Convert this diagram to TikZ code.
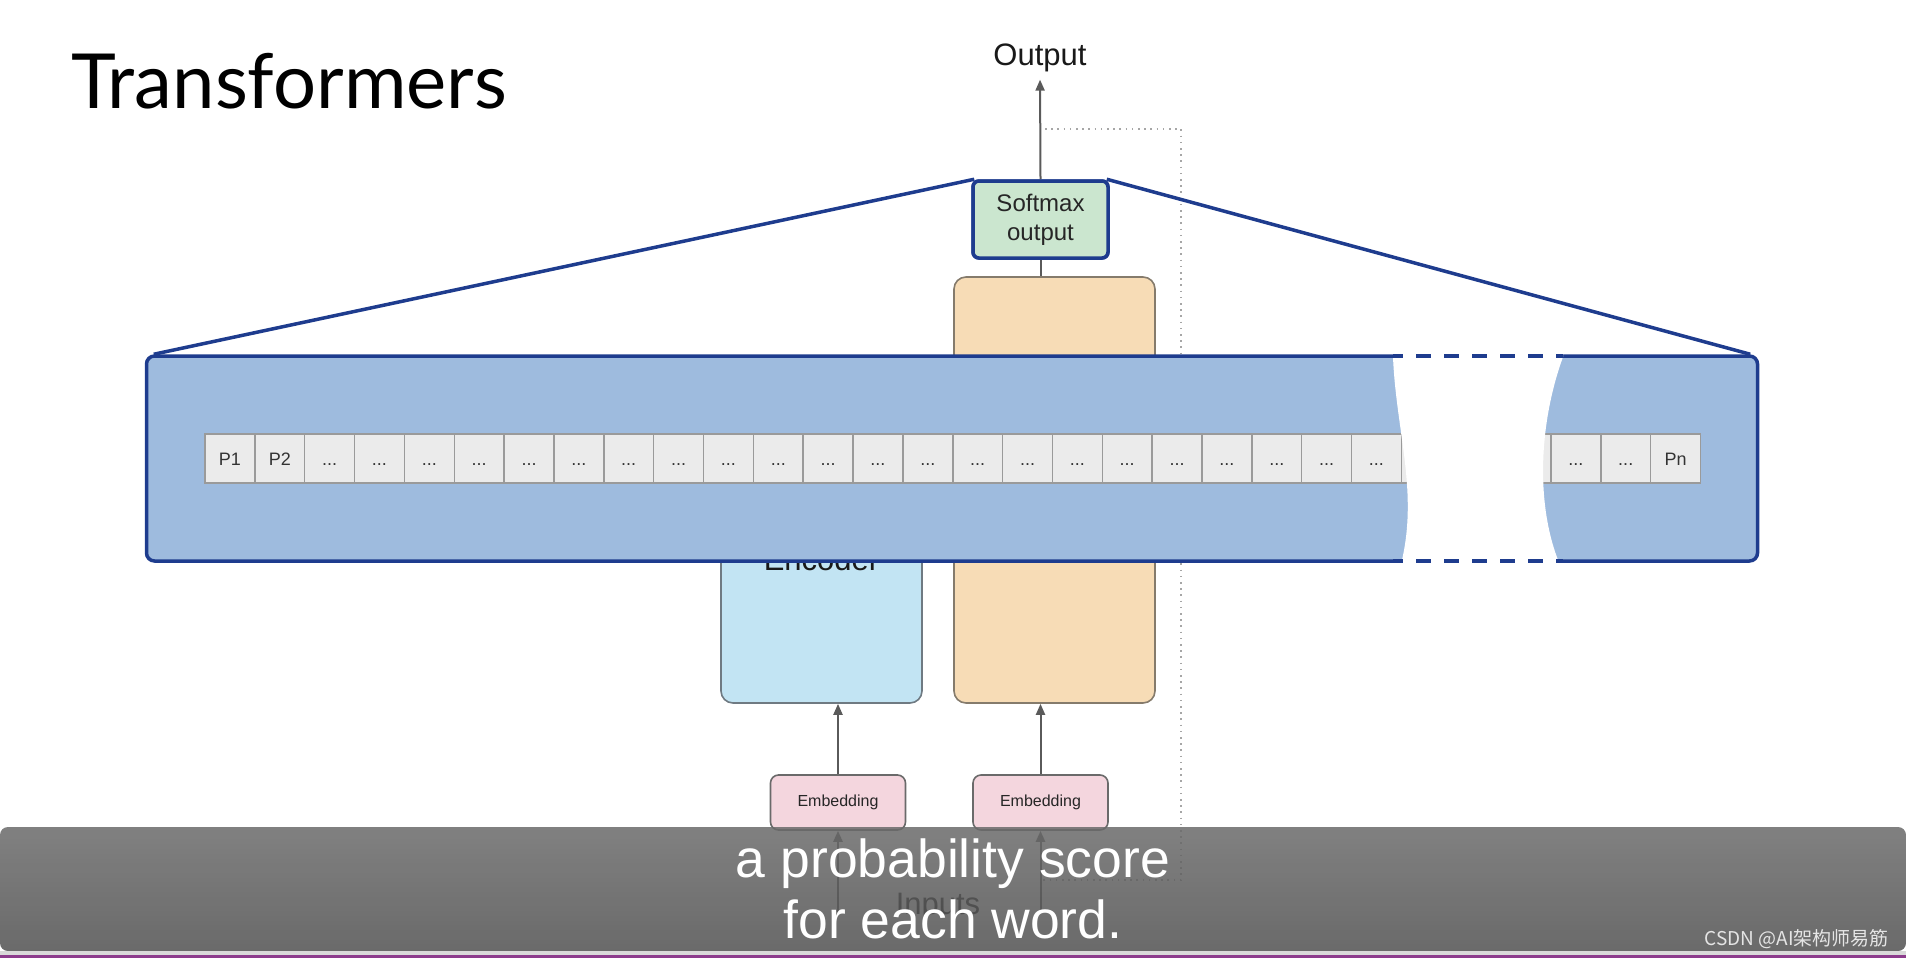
\documentclass[tikz,border=0pt]{standalone}
\usepackage{fontspec}
\setmainfont{Liberation Sans}
\newfontfamily\titlefont{Lato}
\newfontfamily\cjkfont{Noto Sans CJK SC}
\usetikzlibrary{arrows.meta,positioning,calc}

\definecolor{bandfill}{HTML}{9EBBDE}
\definecolor{bandline}{HTML}{1E3C8E}
\definecolor{softfill}{HTML}{CBE6CF}
\definecolor{decfill}{HTML}{F7DCB6}
\definecolor{decline}{HTML}{857B6C}
\definecolor{encfill}{HTML}{C2E4F3}
\definecolor{encline}{HTML}{6F7A82}
\definecolor{embfill}{HTML}{F4D6DE}
\definecolor{embline}{HTML}{6A6A6A}
\definecolor{cellfill}{HTML}{EBEBEB}
\definecolor{cellline}{HTML}{9A9A9A}
\definecolor{wiregray}{HTML}{5A5A5A}
\definecolor{bartop}{HTML}{6A6A6A}
\definecolor{barbottom}{HTML}{505050}
\definecolor{playline}{HTML}{8C3C8C}

\begin{document}
\begin{tikzpicture}[
    x=1pt, y=-1pt,
    >={Triangle[length=11pt,width=9pt]},
    wire/.style={draw=wiregray, line width=2pt},
    block/.style={draw, line width=1.6pt, rounded corners=12pt, inner sep=0pt, minimum width=201pt},
    embbox/.style={draw=embline, fill=embfill, line width=1.6pt, rounded corners=8pt, inner sep=0pt,
        minimum width=135pt, minimum height=55pt, font=\fontsize{16}{19}\selectfont, text=black!85},
    softbox/.style={draw=bandline, fill=softfill, line width=3.5pt, rounded corners=6pt, inner sep=0pt,
        minimum width=135pt, minimum height=77pt, align=center, font=\fontsize{24}{29}\selectfont, text=black!85},
    banner/.style={draw=bandline, fill=bandfill, line width=3.5pt, rounded corners=8pt, inner sep=0pt,
        minimum width=1611pt, minimum height=205pt},
    cell/.style={draw=cellline, fill=cellfill, line width=1.5pt, inner sep=0pt, minimum width=49.85pt,
        minimum height=49pt, text height=13pt, text depth=0pt, font=\fontsize{18}{21}\selectfont, text=black!80},
    bandedge/.style={draw=bandline, line width=3.5pt},
    label/.style={font=\fontsize{31}{36}\selectfont, text=black!90, inner sep=0pt}
]
\useasboundingbox (0,0) rectangle (1906,958);

% Title
\node[anchor=base west, inner sep=0pt, font=\titlefont\fontsize{76}{88}\selectfont] (title) at (71,108) {Transformers};

% dotted frame
\draw[gray!70, line width=1.6pt, dash pattern=on 1.6pt off 4.6pt] (1045,129) -| (1181,880) -- (1043,880);

% Encoder / decoder
\node[block, draw=decline, fill=decfill, minimum height=426pt] (dec) at (1054.5,490) {};
\node[block, draw=encline, fill=encfill, minimum height=263pt] (enc) at (821.5,571.5) {};
\node[label, anchor=base] (enctxt) at (821.5,570) {Encoder};

% Embeddings and inputs
\node[embbox] (embL) at (838,802.5) {Embedding};
\node[embbox] (embR) at (1040.5,802.5) {Embedding};
\node[label, anchor=base] (inputs) at (938,914) {Inputs};
\coordinate (inL) at (838,912);
\coordinate (inR) at (1040.5,912);
\draw[wire,->] (inL) -- (embL.south);
\draw[wire,->] (inR) -- (embR.south);
\draw[wire,->] (embL.north) -- (embL.north |- enc.south);
\draw[wire,->] (embR.north) -- (embR.north |- dec.south);

% Softmax and output
\node[softbox] (soft) at (1040.5,219.5) {Softmax\\output};
\node[label, anchor=base] (out) at (1040,66) {Output};
\draw[wire,->, shorten >=7pt] (soft.north) -- (out.south);
\draw[wire] (soft.south) -- (soft.south |- dec.north);

% Zoomed band of positions
\node[banner] (band) at (952,458.5) {};
\foreach \i in {1,...,30}{
    \ifnum\i=1 \def\lbl{P1}\else\ifnum\i=2 \def\lbl{P2}\else\ifnum\i=30 \def\lbl{Pn}\else\def\lbl{...}\fi\fi\fi
    \node[cell] (c\i) at ({205+49.85*(\i-0.5)},458.5) {\lbl};
}
% torn gap
\fill[white] (1393,351) -- (1393,357) .. controls (1396,430) and (1418,490) .. (1402,560) -- (1402,567)
    -- (1558,567) -- (1558,560) .. controls (1535,500) and (1540,420) .. (1563,357) -- (1563,351) -- cycle;
\draw[bandedge, dash pattern=on 15pt off 13pt, dash phase=5pt] (1393,356) -- (1563,356);
\draw[bandedge, dash pattern=on 15pt off 13pt, dash phase=5pt] (1393,561) -- (1563,561);
\draw[bandedge] ($(band.north west)+(9,0)$) -- ($(soft.north west)+(3,0)$);
\draw[bandedge] ($(band.north east)+(-9,0)$) -- ($(soft.north east)+(-3,0)$);
\node[softbox] at (soft) {Softmax\\output};

% Caption overlay
\shade[top color=bartop, bottom color=barbottom, opacity=0.85, rounded corners=8pt] (0,827) rectangle (1906,951);
\node[anchor=base, text=white, inner sep=0pt, font=\fontsize{53.5}{61}\selectfont] (cap1) at (953,877) {a probability score};
\node[anchor=base, text=white, inner sep=0pt, font=\fontsize{53.5}{61}\selectfont] (cap2) at (953,938) {for each word.};
\node[anchor=base east, text=gray!20, inner sep=0pt, font=\cjkfont\fontsize{19}{22}\selectfont] (mark) at (1889,945) {CSDN @AI架构师易筋};
\fill[gray!30] (0,951) rectangle (1906,955);
\fill[playline] (0,955) rectangle (1906,958);
\end{tikzpicture}
\end{document}
